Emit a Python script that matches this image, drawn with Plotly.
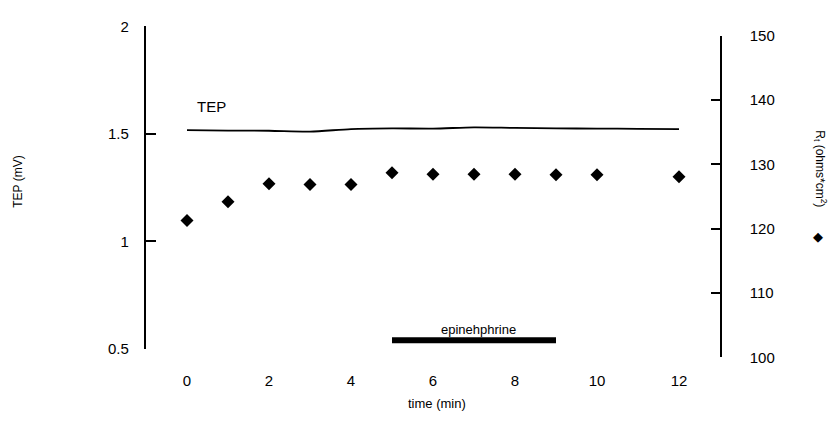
import plotly.graph_objects as go

# ---- data ----
TIME_TEP = [0, 1, 2, 3, 4, 5, 6, 7, 8, 9, 10, 11, 12]
TEP_MV = [1.517, 1.515, 1.514, 1.510, 1.522, 1.525, 1.524, 1.530, 1.527, 1.525, 1.524, 1.523, 1.522]

TIME_R = [0, 1, 2, 3, 4, 5, 6, 7, 8, 9, 10, 12]
R_T = [121.3, 124.2, 127.0, 126.9, 126.9, 128.7, 128.5, 128.5, 128.5, 128.4, 128.4, 128.1]

EPI_TIMES = [5, 9]
X_TICKS = [0, 2, 4, 6, 8, 10, 12]
Y_LEFT_TICKS = [0.5, 1, 1.5, 2]
Y_LEFT_TEXT = ["0.5", "1", "1.5", "2"]
Y_RIGHT_TICKS = [100, 110, 120, 130, 140, 150]

W, H = 832, 423
FONT = "Liberation Sans, Arial, sans-serif"
PAD = "\u00a0\u00a0\u00a0"


def fx(px):
    return px / W


def fy(py):
    return 1 - py / H


# pixel mapping of the time axis: x = 187 + 41 * t
X0, DX = 187.0, 41.0
LEFT_PX, RIGHT_PX = 146.0, 720.0
x_range = [(LEFT_PX - X0) / DX, (RIGHT_PX - X0) / DX]

fig = go.Figure()

fig.add_trace(go.Scatter(
    x=TIME_TEP, y=TEP_MV, mode="lines",
    line=dict(color="black", width=1.8, shape="spline", smoothing=0.8),
    xaxis="x", yaxis="y", showlegend=False, hoverinfo="skip", cliponaxis=False))

fig.add_trace(go.Scatter(
    x=TIME_R, y=R_T, mode="markers",
    marker=dict(symbol="diamond", size=10, color="black"),
    xaxis="x", yaxis="y2", showlegend=False, cliponaxis=False))

fig.add_shape(type="line", xref="x", yref="paper",
              x0=EPI_TIMES[0], x1=EPI_TIMES[1], y0=fy(345), y1=fy(345),
              line=dict(color="black", width=6))

fig.update_layout(
    width=W, height=H, autosize=False,
    margin=dict(l=0, r=0, t=0, b=0),
    paper_bgcolor="white", plot_bgcolor="rgba(0,0,0,0)",
    font=dict(family=FONT, color="black", size=14),
    xaxis=dict(domain=[fx(LEFT_PX), fx(RIGHT_PX)], range=x_range,
               anchor="free", position=fy(376),
               showline=False, showgrid=False, zeroline=False, ticks="",
               tickmode="array", tickvals=X_TICKS, tickfont=dict(size=15)),
    yaxis=dict(domain=[fy(354), fy(18)], range=[0.5, 2], anchor="x", side="left",
               showline=True, linecolor="black", linewidth=1.5,
               ticks="inside", ticklen=10, tickwidth=1.5, tickcolor="black",
               tickmode="array", tickvals=Y_LEFT_TICKS,
               ticktext=[t + PAD for t in Y_LEFT_TEXT],
               showgrid=False, zeroline=False,
               tickfont=dict(size=15)),
    yaxis2=dict(domain=[fy(363), fy(28)], range=[100, 150], anchor="x",
                side="right", showline=True, linecolor="black",
                linewidth=1.5, ticks="inside", ticklen=9, tickwidth=1.5,
                tickcolor="black", tickmode="array", tickvals=Y_RIGHT_TICKS,
                ticktext=[PAD + PAD + str(v) for v in Y_RIGHT_TICKS],
                showgrid=False, zeroline=False,
                tickfont=dict(size=15)),
)

C = dict(xanchor="center", yanchor="middle", showarrow=False)
annotations = [
    dict(text="TEP", x=0.6, xref="x", y=fy(102), yref="paper",
         font=dict(size=15), **C),
    dict(text="epinehphrine", x=7.1, xref="x", y=fy(334), yref="paper",
         font=dict(size=13), **C),
    dict(text="time (min)", x=6.1, xref="x", y=fy(411), yref="paper",
         font=dict(size=13), **C),
    dict(text="TEP (mV)", x=fx(18), xref="paper", y=fy(180), yref="paper",
         textangle=-90, font=dict(size=12), **C),
    dict(text="R<sub>t</sub> (ohms*cm<sup>2</sup>)", x=fx(820), xref="paper",
         y=fy(166), yref="paper", textangle=90, font=dict(size=12), **C),
    dict(text="\u25c6", x=fx(818), xref="paper", y=fy(237), yref="paper",
         font=dict(size=13, family="DejaVu Sans"), **C),
]
fig.update_layout(annotations=annotations)

fig.write_html("out.html", config={"displayModeBar": False},
               post_script="document.body.style.margin='0';document.body.style.padding='0';")
